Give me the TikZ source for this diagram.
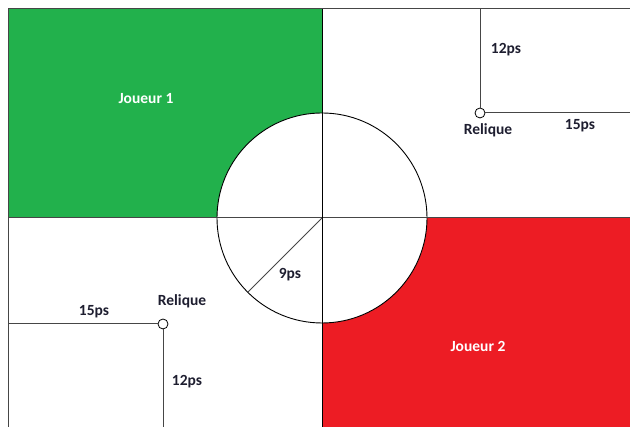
\documentclass[tikz,border=0pt]{standalone}
\usepackage{fontspec}
\setmainfont{Carlito}
\usepackage{tikz}
\usetikzlibrary{positioning,calc}
\usepackage{xcolor}
\definecolor{vert}{RGB}{34,177,76}
\definecolor{rouge}{RGB}{237,28,36}
\definecolor{trait}{RGB}{70,70,70}
\definecolor{texte}{RGB}{30,30,48}

\begin{document}
\begin{tikzpicture}[
  x=1pt, y=1pt,
  ligne/.style={draw=trait, line width=1pt},
  relic/.style={circle, draw=black, line width=0.8pt, minimum size=10pt, inner sep=0pt},
  lbl/.style={font=\fontsize{15.5}{18}\selectfont\bfseries, text=texte, inner sep=1pt},
  joueur/.style={lbl, text=white}
]
\useasboundingbox (0,0) rectangle (630,427);
\coordinate (centre) at (322,209);
% zones des joueurs
\fill[vert] (8,209) rectangle (322,418);
\fill[rouge] (322,0) rectangle (630,209);
\filldraw[fill=white, draw=black, line width=0.9pt] (centre) circle[radius=105];
% cadre et axes
\draw[ligne] (8,0) -- (8,418) -- (630,418);
\draw[ligne] (8,209) -- (630,209);
\draw[draw=black, line width=1pt] (322,0) -- (322,418);
\coordinate (rayon) at ($(centre)+(225:105)$);
\draw[ligne, line width=0.8pt] (centre) -- (rayon);

% reliques
\node[relic] (rel1) at (480,314) {};
\node[relic] (rel2) at (163,103) {};
\coordinate (rel1h) at (480,418);
\coordinate (rel1d) at (630,314);
\coordinate (rel2g) at (8,103);
\coordinate (rel2b) at (163,0);
\draw[ligne] (rel1) -- (rel1h);
\draw[ligne] (rel1) -- (rel1d);
\draw[ligne] (rel2) -- (rel2g);
\draw[ligne] (rel2) -- (rel2b);

% textes
\node[joueur] (j1) at (146,328) {Joueur 1};
\node[joueur] (j2) at (478,81) {Joueur 2};
\node[lbl] (d12a) at (506,377) {12ps};
\node[lbl] (nom1) at (488,297) {Relique};
\node[lbl] (d15a) at (580,301) {15ps};
\node[lbl] (nom2) at (182,126) {Relique};
\node[lbl] (d15b) at (94,115) {15ps};
\node[lbl] (d12b) at (187,45) {12ps};
\node[lbl] (r9) at (290,152) {9ps};
\end{tikzpicture}
\end{document}
